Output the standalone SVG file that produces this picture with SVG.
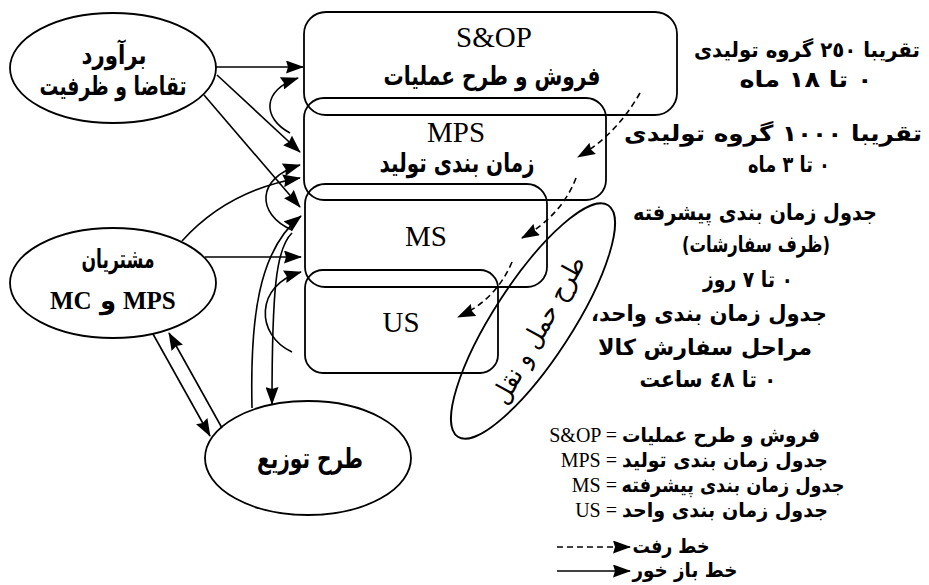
<svg xmlns="http://www.w3.org/2000/svg" width="929" height="585" viewBox="0 0 929 585">
<defs>
<style>
.shape{fill:none;stroke:#000;stroke-width:1.8}
.ln{fill:none;stroke:#000;stroke-width:1.6}
.dash{stroke-dasharray:6 4}
.ar{font-family:"DejaVu Sans","Noto Sans",sans-serif;font-weight:bold;direction:rtl;fill:#000;text-anchor:middle}
.lt{font-family:"Liberation Serif","Times New Roman",serif;fill:#000}
</style>
<marker id="ah" viewBox="0 0 18 13" refX="17" refY="6.5" markerWidth="18" markerHeight="13" markerUnits="userSpaceOnUse" orient="auto"><path d="M0,0 L18,6.5 L0,13 L2,6.5 z" fill="#000"/></marker>
</defs>
<rect width="929" height="585" fill="#fff"/>

<g id="n-estimate">
<ellipse cx="113" cy="68" rx="103" ry="55" class="shape"/>
<text class="ar" x="114" y="64" font-size="26" textLength="65" lengthAdjust="spacingAndGlyphs">برآورد</text>
<text class="ar" x="113" y="95" font-size="26" textLength="147" lengthAdjust="spacingAndGlyphs">تقاضا و ظرفیت</text>
</g>

<g id="n-customers">
<ellipse cx="113" cy="283" rx="103" ry="55" class="shape"/>
<text class="ar" x="118" y="268" font-size="26" textLength="73" lengthAdjust="spacingAndGlyphs">مشتریان</text>
<text class="lt" x="50" y="309" font-size="25" font-weight="bold">MC</text>
<text class="ar" x="108" y="309" font-size="26">و</text>
<text class="lt" x="123" y="309" font-size="25" font-weight="bold">MPS</text>
</g>

<g id="n-distribution">
<ellipse cx="308" cy="458" rx="103" ry="57" class="shape"/>
<text class="ar" x="310" y="468" font-size="28" textLength="106" lengthAdjust="spacingAndGlyphs">طرح توزیع</text>
</g>

<g id="n-sop">
<rect x="304" y="12" width="373" height="103" rx="22" class="shape"/>
<text class="lt" x="494" y="47" font-size="29" text-anchor="middle">S&amp;OP</text>
<text class="ar" x="492" y="85" font-size="26" textLength="217" lengthAdjust="spacingAndGlyphs">فروش و طرح عملیات</text>
</g>

<g id="n-mps">
<rect x="304" y="98" width="302" height="102" rx="20" class="shape"/>
<text class="lt" x="456" y="142" font-size="29" text-anchor="middle">MPS</text>
<text class="ar" x="457" y="172" font-size="26" textLength="155" lengthAdjust="spacingAndGlyphs">زمان بندی تولید</text>
</g>

<g id="n-ms">
<rect x="305" y="184" width="242" height="103" rx="20" class="shape"/>
<text class="lt" x="426" y="246" font-size="29" text-anchor="middle">MS</text>
</g>

<g id="n-us">
<rect x="305" y="270" width="193" height="103" rx="18" class="shape"/>
<text class="lt" x="401" y="332" font-size="29" text-anchor="middle">US</text>
</g>

<g id="n-transport">
<ellipse cx="0" cy="0" rx="138" ry="39" class="shape" transform="translate(533,321) rotate(-57)"/>
<text class="ar" font-size="26" textLength="165" lengthAdjust="spacingAndGlyphs" transform="translate(546,334) rotate(-61)" x="0" y="0" style="font-weight:normal">طرح حمل و نقل</text>
</g>

<g id="connectors">
<path class="ln" d="M216,67 L303,67" marker-end="url(#ah)"/>
<path class="ln" d="M290,133 C262,118 262,90 298,78" marker-end="url(#ah)"/>
<path class="ln" d="M217,75 L300,152" marker-end="url(#ah)"/>
<path class="ln" d="M204,95 L300,207" marker-end="url(#ah)"/>
<path class="ln" d="M292,230 C256,214 256,178 300,165" marker-end="url(#ah)"/>
<path class="ln" d="M182,241 Q228,190 300,178" marker-end="url(#ah)"/>
<path class="ln" d="M252,408 C250,320 258,250 301,216" marker-end="url(#ah)"/>
<path class="ln" d="M205,257 L301,257" marker-end="url(#ah)"/>
<path class="ln" d="M292,352 C255,335 255,285 301,272" marker-end="url(#ah)"/>
<path class="ln" d="M292,233 C276,248 272,290 272,404" marker-end="url(#ah)"/>
<path class="ln" d="M153,334 L210,436" marker-end="url(#ah)"/>
<path class="ln" d="M222,428 L169,333" marker-end="url(#ah)"/>
<path class="ln dash" d="M640,93 Q616,135 578,157" marker-end="url(#ah)"/>
<path class="ln dash" d="M576,178 Q562,215 522,238" marker-end="url(#ah)"/>
<path class="ln dash" d="M512,262 Q496,300 458,317" marker-end="url(#ah)"/>
</g>

<g id="notes">
<text class="ar" x="807" y="57" font-size="21" textLength="226" lengthAdjust="spacingAndGlyphs">تقریبا ٢٥٠ گروه تولیدی</text>
<text class="ar" x="806" y="87" font-size="22" textLength="133" lengthAdjust="spacingAndGlyphs">٠ تا ١٨ ماه</text>
<text class="ar" x="773" y="141" font-size="22" textLength="298" lengthAdjust="spacingAndGlyphs">تقریبا ١٠٠٠ گروه تولیدی</text>
<text class="ar" x="789" y="172" font-size="22" textLength="82" lengthAdjust="spacingAndGlyphs">٠ تا ٣ ماه</text>
<text class="ar" x="755" y="220" font-size="22" textLength="244" lengthAdjust="spacingAndGlyphs">جدول زمان بندی پیشرفته</text>
<text class="ar" x="756" y="252" font-size="22" textLength="148" lengthAdjust="spacingAndGlyphs">(ظرف سفارشات)</text>
<text class="ar" x="748" y="287" font-size="22" textLength="90" lengthAdjust="spacingAndGlyphs">٠ تا ٧ روز</text>
<text class="ar" x="709" y="321" font-size="22" textLength="236" lengthAdjust="spacingAndGlyphs">جدول زمان بندی واحد،</text>
<text class="ar" x="705" y="355" font-size="22" textLength="214" lengthAdjust="spacingAndGlyphs">مراحل سفارش کالا</text>
<text class="ar" x="708" y="387" font-size="22" textLength="137" lengthAdjust="spacingAndGlyphs">٠ تا ٤٨ ساعت</text>
</g>

<g id="legend">
<text class="lt" x="617" y="442" font-size="20" text-anchor="end">S&amp;OP =</text>
<text class="ar" x="721" y="442" font-size="20" textLength="198" lengthAdjust="spacingAndGlyphs">فروش و طرح عملیات</text>
<text class="lt" x="617" y="467" font-size="20" text-anchor="end">MPS =</text>
<text class="ar" x="725" y="467" font-size="20" textLength="206" lengthAdjust="spacingAndGlyphs">جدول زمان بندی تولید</text>
<text class="lt" x="617" y="492" font-size="20" text-anchor="end">MS =</text>
<text class="ar" x="733" y="492" font-size="20" textLength="223" lengthAdjust="spacingAndGlyphs">جدول زمان بندی پیشرفته</text>
<text class="lt" x="617" y="517" font-size="20" text-anchor="end">US =</text>
<text class="ar" x="725" y="517" font-size="20" textLength="206" lengthAdjust="spacingAndGlyphs">جدول زمان بندی واحد</text>
<path class="ln dash" d="M557,547 L630,547" marker-end="url(#ah)"/>
<text class="ar" x="671" y="553" font-size="20" textLength="77" lengthAdjust="spacingAndGlyphs">خط رفت</text>
<path class="ln" d="M557,571 L630,571" marker-end="url(#ah)"/>
<text class="ar" x="685" y="577" font-size="20" textLength="105" lengthAdjust="spacingAndGlyphs">خط باز خور</text>
</g>
</svg>
